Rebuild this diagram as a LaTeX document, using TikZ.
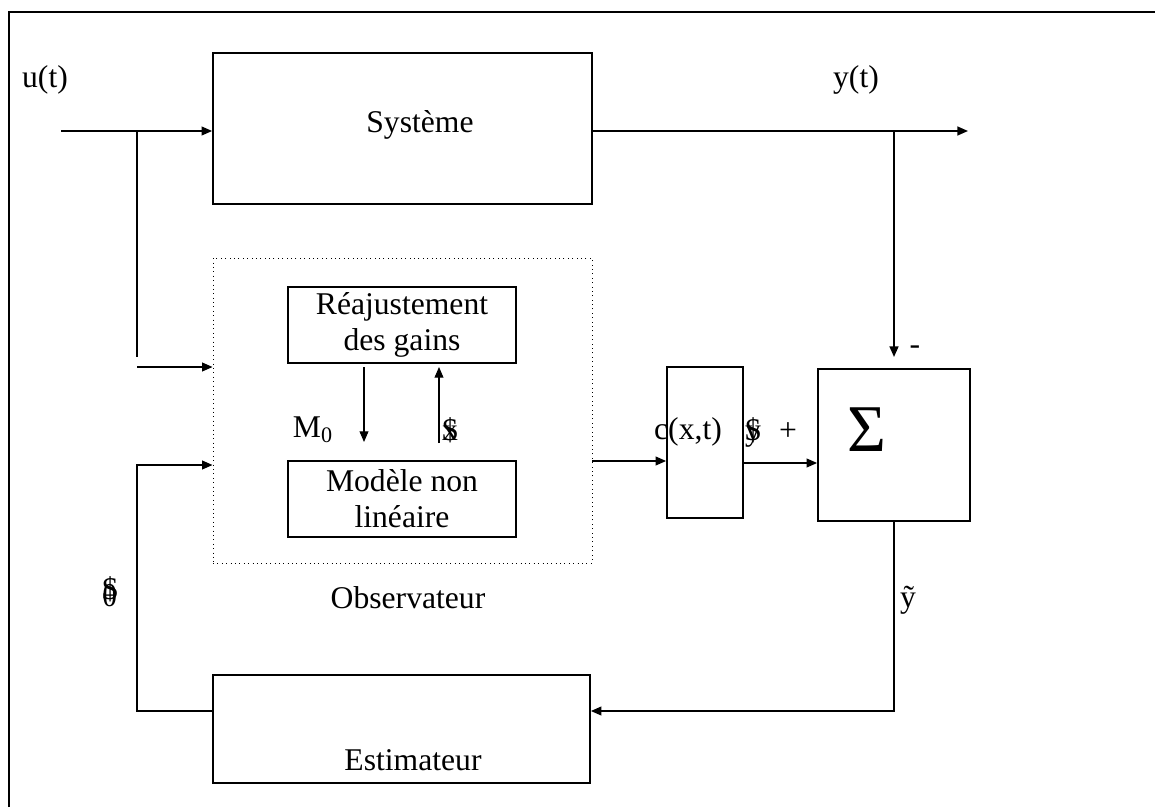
\documentclass[tikz,border=0pt]{standalone}
\usepackage{fontspec}
\setmainfont{Liberation Serif}
\usetikzlibrary{arrows.meta}

\begin{document}
\begin{tikzpicture}[
  line width=1pt,  font=\fontsize{18}{20.5}\selectfont,  block/.style={draw,inner sep=0pt},  txt/.style={inner sep=0pt},  arr/.style={-{Triangle[length=6pt,width=5pt]}},  thinarr/.style={line width=0.6pt,-{Triangle[length=6pt,width=5pt]}}
]
  \useasboundingbox (0,0) rectangle (23.1,-16.14);
  \draw (0.18,-16.14) -- (0.18,-0.24) -- (23.1,-0.24);
  \node[block,minimum width=7.58cm,minimum height=3.02cm] (sys) at (8.05,-2.57) {};
  \node[block,dotted,line width=0.5pt,minimum width=7.58cm,minimum height=6.10cm] (obs) at (8.05,-8.21) {};
  \node[block,align=center,minimum width=4.56cm,minimum height=1.52cm] (reaj) at (8.04,-6.50) {Réajustement\\des gains};
  \node[block,align=center,minimum width=4.56cm,minimum height=1.52cm] (model) at (8.04,-9.98) {Modèle non\\linéaire};
  \node[block,minimum width=1.52cm,minimum height=3.02cm] (cbox) at (14.10,-8.85) {};
  \node[block,minimum width=3.04cm,minimum height=3.04cm] (sum) at (17.88,-8.90) {};
  \node[block,minimum width=7.54cm,minimum height=2.16cm] (est) at (8.03,-14.58) {};
  \node[txt] (tsys) at (8.40,-2.50) {Système};
  \node[txt] (test) at (8.26,-15.20) {Estimateur};
  \node[txt,font=\fontsize{38}{44}\selectfont] (tsig) at (17.34,-8.60) {Σ};
  \node[txt] (lu) at (0.90,-1.60) {u(t)};
  \node[txt] (ly) at (17.12,-1.60) {y(t)};
  \node[txt] (lminus) at (18.30,-7.00) {-};
  \node[txt] (lplus) at (15.76,-8.64) {+};
  \node[txt] (lyt) at (18.16,-12.00) {ỹ};
  \node[txt] (lth) at (2.20,-11.84) {\makebox[0pt][l]{θ}\raisebox{4pt}{\$}};
  \node[txt] (lm) at (6.26,-8.60) {M\textsubscript{0}};
  \node[txt] (lx) at (9.00,-8.60) {\makebox[0pt][l]{x}\$};
  \node[txt] (lc) at (13.76,-8.64) {c(x,t)};
  \node[txt] (lyh) at (15.06,-8.64) {\makebox[0pt][l]{y}\$};
  \node[txt] (lobs) at (8.16,-11.96) {Observateur};
  \coordinate (in) at (1.22,-2.62);
  \coordinate (su) at (2.74,-2.62);
  \coordinate (eu) at (2.74,-7.14);
  \coordinate (bu) at (2.74,-7.34);
  \coordinate (out) at (19.36,-2.62);
  \coordinate (sy) at (17.88,-2.62);
  \coordinate (ey) at (17.88,-7.14);
  \coordinate (ky) at (17.88,-14.22);
  \coordinate (kt) at (2.74,-14.22);
  \coordinate (bt) at (2.74,-9.30);
  \draw[arr] (in) -- (sys.west |- in);
  \draw (su) -- (eu);
  \draw[arr] (bu) -- (obs.west |- bu);
  \draw[arr] (sys.east |- out) -- (out);
  \draw[arr] (sy) -- (ey);
  \draw[thinarr] (7.28,-7.34) -- (7.28,-8.84);
  \draw[thinarr] (8.78,-8.86) -- (8.78,-7.34);
  \draw[arr] (obs.east |- 0,-9.22) -- (cbox.west |- 0,-9.22);
  \draw[arr] (cbox.east |- 0,-9.26) -- (sum.west |- 0,-9.26);
  \draw[arr] (sum.south) -- (ky) -- (est.east |- ky);
  \draw[arr] (est.west |- kt) -- (kt) -- (bt) -- (obs.west |- bt);
\end{tikzpicture}
\end{document}
